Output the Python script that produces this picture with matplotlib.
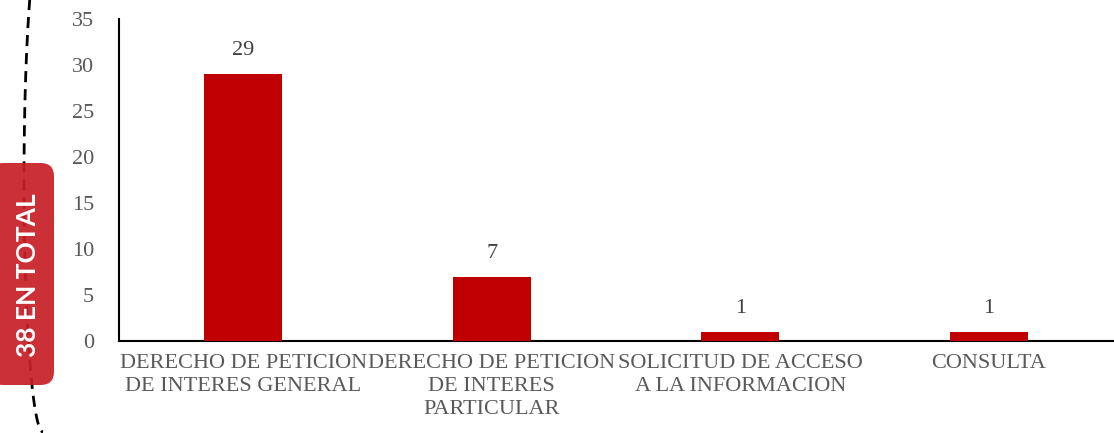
import numpy as np
import matplotlib.pyplot as plt
from matplotlib.patches import FancyBboxPatch
from matplotlib.lines import Line2D

# Datos del grafico
categorias = [
    "DERECHO DE PETICION\nDE INTERES GENERAL",
    "DERECHO DE PETICION\nDE INTERES\nPARTICULAR",
    "SOLICITUD DE ACCESO\nA LA INFORMACION",
    "CONSULTA",
]
valores = [29, 7, 1, 1]
y_ticks = [0, 5, 10, 15, 20, 25, 30, 35]
total_label = "38 EN TOTAL"

W, H = 1114, 433
fig = plt.figure(figsize=(W / 100, H / 100), dpi=100)
ax = fig.add_axes([119 / W, 1 - 341 / H, (1113 - 119) / W, (341 - 19) / H])

serif = ["Liberation Serif", "DejaVu Serif"]
grey = "#595959"

x = np.arange(len(categorias))
bars = ax.bar(x, valores, width=0.315, color="#C00000", zorder=3)

for xi, v in zip(x, valores):
    ax.text(xi, v + 1.5, str(v), ha="center", va="bottom",
            fontsize=16, color="#404040", family=serif)

ax.set_xlim(-0.5, len(categorias) - 0.5)
ax.set_ylim(0, 35)
ax.set_yticks(y_ticks)
ax.set_yticklabels([str(t) for t in y_ticks], family=serif, fontsize=16, color=grey)
ax.set_xticks(x)
ax.set_xticklabels(categorias, family=serif, fontsize=16, color=grey, linespacing=1.3)
ax.tick_params(axis="y", length=0, pad=18)
ax.tick_params(axis="x", length=0, pad=9)

for s in ["top", "right"]:
    ax.spines[s].set_visible(False)
for s in ["left", "bottom"]:
    ax.spines[s].set_linewidth(1.5)
    ax.spines[s].set_color("black")


def px(xp, yp):
    return xp / W, 1 - yp / H


# Arco discontinuo decorativo
t = np.linspace(-0.85, 1.0, 200) * np.pi / 2
ax_e, b_e, cx, cy = 19, 252, 43, 180
xs = cx - ax_e * np.cos(t)
ys = cy + b_e * np.sin(t)
fx, fy = px(xs, ys)
fig.add_artist(Line2D(fx, fy, transform=fig.transFigure, color="black",
                      lw=2, linestyle=(0, (4, 2.5)), zorder=1))

# Caja roja con el total
bx0, by0 = px(-10, 385)
bx1, by1 = px(54, 163)
box = FancyBboxPatch((bx0, by0), bx1 - bx0, by1 - by0,
                     boxstyle="round,pad=0,rounding_size=0.012",
                     transform=fig.transFigure, facecolor="#C62026",
                     edgecolor="none", alpha=0.93, zorder=2,
                     mutation_aspect=W / H)
fig.add_artist(box)
tx, ty = px(28, 275)
fig.text(tx, ty, total_label, rotation=90, ha="center", va="center",
         color="white", fontsize=19, fontweight="bold",
         family=["Lato", "DejaVu Sans"], zorder=3)

fig.savefig("out.png", dpi=100)
